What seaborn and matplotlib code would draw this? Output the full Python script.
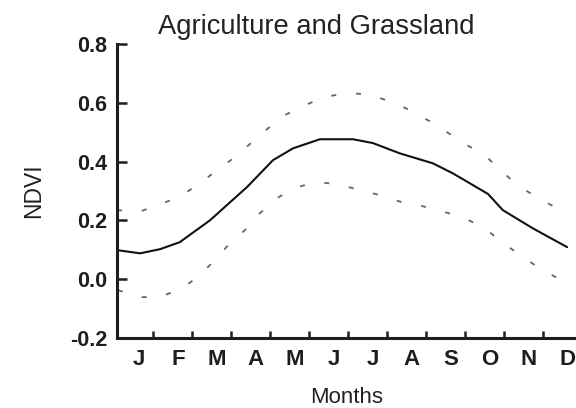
import matplotlib
matplotlib.use("Agg")
import matplotlib.pyplot as plt
import seaborn as sns

# Data (x in months from Jan 1)
mean_x = [0.08, 0.67, 1.18, 1.69, 2.46, 3.41, 4.08, 4.59, 5.28, 6.13, 6.64, 7.33, 8.18, 8.69, 9.59, 9.97, 10.74, 11.62]
mean_y = [0.099, 0.088, 0.102, 0.126, 0.20, 0.313, 0.405, 0.445, 0.476, 0.476, 0.463, 0.428, 0.394, 0.36, 0.29, 0.235, 0.173, 0.109]

upper_x = [0.08, 0.67, 1.18, 1.69, 2.21, 2.64, 3.10, 3.54, 3.95, 4.38, 4.90, 5.41, 5.97, 6.51, 7.08, 7.59, 8.10, 8.54, 9.05, 9.51, 9.90, 10.33, 10.79, 11.31, 11.62]
upper_y = [0.235, 0.23, 0.255, 0.28, 0.327, 0.37, 0.415, 0.466, 0.513, 0.558, 0.592, 0.62, 0.633, 0.629, 0.605, 0.575, 0.537, 0.50, 0.456, 0.422, 0.371, 0.323, 0.282, 0.245, 0.225]

lower_x = [0.10, 0.67, 1.18, 1.74, 2.15, 2.59, 2.97, 3.36, 3.74, 4.18, 4.69, 5.21, 5.74, 6.31, 6.82, 7.38, 7.92, 8.49, 9.00, 9.51, 9.95, 10.41, 10.87, 11.38, 11.62]
lower_y = [-0.037, -0.061, -0.061, -0.031, 0.007, 0.065, 0.122, 0.167, 0.224, 0.276, 0.313, 0.33, 0.323, 0.303, 0.286, 0.262, 0.248, 0.228, 0.207, 0.173, 0.126, 0.082, 0.041, 0.003, -0.015]

month_labels = ["J", "F", "M", "A", "M", "J", "J", "A", "S", "O", "N", "D"]
y_ticks = [-0.2, 0.0, 0.2, 0.4, 0.6, 0.8]

sns.set_style("ticks")
plt.rcParams['font.family'] = ['Liberation Sans', 'DejaVu Sans']

fig = plt.figure(figsize=(5.76, 4.08), dpi=100)
ax = fig.add_axes([117/576, 1 - 338/408, 1 - 117/576, (338 - 44)/408])

sns.lineplot(x=mean_x, y=mean_y, ax=ax, color="#111111", linewidth=1.5, sort=False)
sns.lineplot(x=upper_x, y=upper_y, ax=ax, color="#666666", linewidth=1.3,
             linestyle=(0, (2.8, 11)), sort=False)
sns.lineplot(x=lower_x, y=lower_y, ax=ax, color="#666666", linewidth=1.3,
             linestyle=(0, (2.8, 11)), sort=False)

ax.set_xlim(0.08, (576 - 114) / 39)
ax.set_ylim(-0.2, 0.8)

ax.set_yticks(y_ticks)
ax.set_yticklabels([f"{v:.1f}" for v in y_ticks], fontweight="bold")
ax.set_xticks([k + 0.64 for k in range(12)])
ax.set_xticklabels(month_labels, fontweight="bold")
ax.set_xticks(list(range(1, 12)), minor=True)

ax.tick_params(axis="y", direction="in", length=7, width=1.8, pad=7, labelsize=15.5, colors="#1e1e1e")
ax.tick_params(axis="x", which="major", length=0, pad=8, labelsize=16, colors="#1e1e1e")
ax.tick_params(axis="x", which="minor", direction="in", length=5, width=1.8, colors="#1e1e1e")

for s in ["top", "right"]:
    ax.spines[s].set_visible(False)
for s in ["left", "bottom"]:
    ax.spines[s].set_linewidth(2.2)
    ax.spines[s].set_color("#1e1e1e")

ax.set_ylabel("NDVI", fontsize=16.5, color="#222222", labelpad=18)
ax.set_xlabel("Months", fontsize=16, color="#222222", labelpad=12)
fig.text(316/576, 1 - 27/408, "Agriculture and Grassland", ha="center", va="center",
         fontsize=19.7, color="#222222")

fig.savefig("out.png", dpi=100)
